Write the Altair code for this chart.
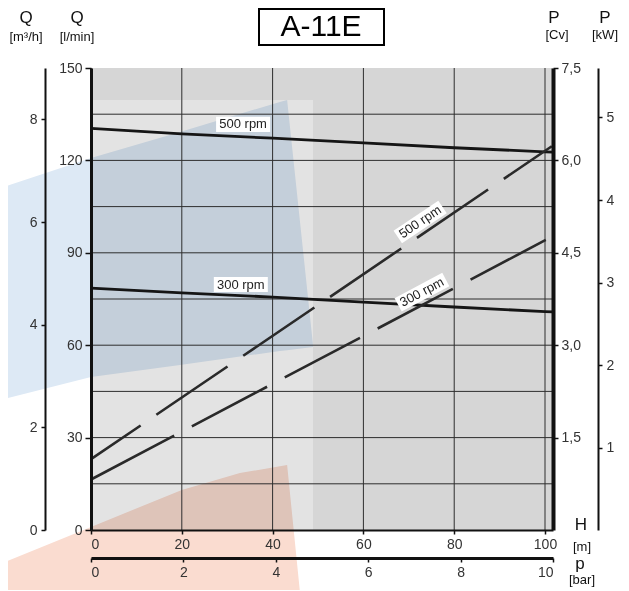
import altair as alt
import pandas as pd

FONT = "Liberation Sans"

# ---------------- data ----------------
h_grid = [0, 20, 40, 60, 80, 100]
q_grid = [15, 30, 45, 60, 75, 90, 105, 120, 135]

h_q = [0, 20, 40, 60, 80, 100, 101.76]
q_500 = [130.4, 128.6, 127.2, 125.7, 124.1, 122.8, 122.7]
q_300 = [78.5, 77.0, 75.6, 74.0, 72.4, 70.9, 70.8]

h_p = [0, 101.5]
p_500 = [1.15, 6.23]
p_300 = [0.82, 4.76]

q_lbl_text = ["500 rpm", "300 rpm"]
q_lbl_h = [33.5, 33.0]
q_lbl_q = [131.7, 79.7]

p_lbl_text = ["500 rpm", "300 rpm"]
p_lbl_h = [72.5, 72.9]
p_lbl_cv = [5.0, 3.86]
p_lbl_angle = [326, 332]

ticks_h = [0, 20, 40, 60, 80, 100]
ticks_q = [0, 30, 60, 90, 120, 150]
ticks_m3h = [0, 2, 4, 6, 8]
ticks_cv = [1.5, 3, 4.5, 6, 7.5]
ticks_kw = [1, 2, 3, 4, 5]
ticks_bar = [0, 2, 4, 6, 8, 10]

light_h = [0, 48.9]
light_q = [0, 139.6]

wm_blue_h = [-20.0, 0, 19.6, 41.6, 43.2, 48.9]
wm_blue_top = [111.0, 120.8, 129.2, 139.0, 139.6, 60.1]
wm_blue_bot = [42.2, 49.7, 53.6, 58.1, 58.4, 59.4]

wm_red_h = [-20.0, 0, 20.0, 32.8, 43.2, 46.0]
wm_red_top = [-11.0, 1.0, 13.0, 18.5, 21.1, -19.8]
wm_red_bot = [-32, -32, -32, -32, -32, -32]

# ---------------- scales / axes ----------------
sH = alt.Scale(domain=[0, 101.76], nice=False, zero=False)
sQ = alt.Scale(domain=[0, 150], nice=False, zero=False)
sCv = alt.Scale(domain=[0, 7.5], nice=False, zero=False)
sM3 = alt.Scale(domain=[0, 9], nice=False, zero=False)
sKW = alt.Scale(domain=[0, 5.6], nice=False, zero=False)
sBar = alt.Scale(domain=[0, 10], nice=False, zero=False)

base_ax = dict(labelFont=FONT, labelFontSize=14, labelColor="#333333",
               tickColor="#111111", domainColor="#111111", grid=False,
               title=None, zindex=1)

axH = alt.Axis(orient="bottom", values=ticks_h, tickSize=4, tickWidth=1.5,
               domainWidth=2, labelPadding=3, **base_ax)
axQ = alt.Axis(orient="left", values=ticks_q, tickSize=6, tickWidth=1.5,
               domainWidth=3, labelPadding=3, **base_ax)
axM3 = alt.Axis(orient="left", offset=46, values=ticks_m3h, tickSize=4,
                tickWidth=1.5, domainWidth=2, labelPadding=4, **base_ax)
axCv = alt.Axis(orient="right", values=ticks_cv, tickSize=5, tickWidth=1.5,
                domainWidth=4, labelPadding=3,
                labelExpr="replace(format(datum.value, '.1f'), '.', ',')",
                **base_ax)
axKW = alt.Axis(orient="right", offset=45, values=ticks_kw, tickSize=4,
                tickWidth=1.5, domainWidth=2, labelPadding=4, **base_ax)
axBar = alt.Axis(orient="bottom", offset=28, values=ticks_bar, tickSize=4,
                 tickWidth=1.5, domainWidth=3, labelPadding=3, **base_ax)

XH = alt.X("h:Q", scale=sH, axis=axH)
XH_none = alt.X("h:Q", scale=sH, axis=None)
YQ = alt.Y("q:Q", scale=sQ, axis=axQ)

BOX = "M-1,-0.28L1,-0.28L1,0.28L-1,0.28Z"

# ---------------- main group (H, l/min) ----------------
light = alt.Chart(pd.DataFrame({"h": [light_h[0]], "h2": [light_h[1]],
                                "q": [light_q[0]], "q2": [light_q[1]]})
                  ).mark_rect(color="#e3e3e3").encode(x=XH, x2="h2", y=YQ, y2="q2")

blue = alt.Chart(pd.DataFrame({"h": wm_blue_h, "q": wm_blue_top, "q2": wm_blue_bot})
                 ).mark_area(color="#dde9f5", blend="multiply", orient="vertical",
                             opacity=1).encode(x=XH, y=YQ, y2="q2")

red = alt.Chart(pd.DataFrame({"h": wm_red_h, "q": wm_red_top, "q2": wm_red_bot})
                ).mark_area(color="#fadcd0", blend="multiply", orient="vertical",
                            opacity=1).encode(x=XH, y=YQ, y2="q2")

vgrid = alt.Chart(pd.DataFrame({"h": h_grid})).mark_rule(
    color="#2e2e2e", strokeWidth=1).encode(x=XH)
hgrid = alt.Chart(pd.DataFrame({"q": q_grid})).mark_rule(
    color="#2e2e2e", strokeWidth=1).encode(y=YQ)

qdf = pd.DataFrame({"h": h_q + h_q, "q": q_500 + q_300,
                    "rpm": ["500"] * len(h_q) + ["300"] * len(h_q)})
qlines = alt.Chart(qdf).mark_line(color="#151515", strokeWidth=2.8).encode(
    x=XH, y=YQ, detail="rpm:N")

qlbl_df = pd.DataFrame({"h": q_lbl_h, "q": q_lbl_q, "t": q_lbl_text})
qlbl_bg = alt.Chart(qlbl_df).mark_point(shape=BOX, size=2916, filled=True,
                                        color="white", opacity=1, strokeWidth=0
                                        ).encode(x=XH, y=YQ)
qlbl = alt.Chart(qlbl_df).mark_text(font=FONT, fontSize=13, color="#222222"
                                    ).encode(x=XH, y=YQ, text="t:N")

main = alt.layer(light, blue, red, vgrid, hgrid, qlines, qlbl_bg, qlbl)

# ---------------- power group (H, Cv) ----------------
YCv = alt.Y("cv:Q", scale=sCv, axis=axCv)
p5 = alt.Chart(pd.DataFrame({"h": h_p, "cv": p_500})).mark_line(
    color="#2a2a2a", strokeWidth=2.6,
    strokeDash=[60, 19, 86, 19, 86, 19, 86, 19, 86, 19, 86, 19, 86, 19]
).encode(x=XH_none, y=YCv)
p3 = alt.Chart(pd.DataFrame({"h": h_p, "cv": p_300})).mark_line(
    color="#2a2a2a", strokeWidth=2.6,
    strokeDash=[94, 20, 85, 20, 85, 20, 85, 20, 85, 20, 85, 20]
).encode(x=XH_none, y=YCv)
plbl_df = pd.DataFrame({"h": p_lbl_h, "cv": p_lbl_cv, "t": p_lbl_text,
                        "a": p_lbl_angle})
plbl_bg = alt.Chart(plbl_df).mark_point(shape=BOX, size=2916, filled=True,
                                        color="white", opacity=1, strokeWidth=0
                                        ).encode(x=XH_none, y=YCv,
                                                 angle=alt.Angle("a:Q", scale=None))
plbl = alt.Chart(plbl_df).mark_text(font=FONT, fontSize=13, color="#222222"
                                    ).encode(x=XH_none, y=YCv, text="t:N",
                                             angle=alt.Angle("a:Q", scale=None))
power = alt.layer(p5, p3, plbl_bg, plbl)

# ---------------- extra axes ----------------
m3 = alt.Chart(pd.DataFrame({"v": ticks_m3h})).mark_point(opacity=0).encode(
    y=alt.Y("v:Q", scale=sM3, axis=axM3))
kw = alt.Chart(pd.DataFrame({"v": ticks_kw})).mark_point(opacity=0).encode(
    y=alt.Y("v:Q", scale=sKW, axis=axKW))
bar = alt.Chart(pd.DataFrame({"v": ticks_bar})).mark_point(opacity=0).encode(
    x=alt.X("v:Q", scale=sBar, axis=axBar))

# ---------------- annotations ----------------
def label(text, x, y, size, weight="normal", color="#111111"):
    return alt.Chart(pd.DataFrame({"t": [text]})).mark_text(
        font=FONT, fontSize=size, fontWeight=weight, color=color,
        align="center", baseline="middle"
    ).encode(text="t:N", x=alt.value(x), y=alt.value(y))

title_box = alt.Chart(pd.DataFrame({"t": ["A-11E"]})).mark_rect(
    fill="white", stroke="black", strokeWidth=2
).encode(x=alt.value(168), x2=alt.value(293), y=alt.value(-59), y2=alt.value(-23))

annots = alt.layer(
    title_box,
    label("A-11E", 230, -41, 30, color="#000000"),
    label("Q", -65, -50, 17),
    label("[m³/h]", -65, -31, 13),
    label("Q", -14, -50, 17),
    label("[l/min]", -14, -31, 13),
    label("P", 463, -50, 17),
    label("[Cv]", 466, -33, 13),
    label("P", 514, -50, 17),
    label("[kW]", 514, -33, 13),
    label("H", 490, 457, 17),
    label("[m]", 491, 479, 13),
    label("p", 489, 496, 17),
    label("[bar]", 491, 512, 13),
)

chart = alt.layer(main, power, m3, kw, bar, annots).resolve_scale(
    x="independent", y="independent"
).properties(
    width=462, height=462,
    padding={"left": 83, "top": 60, "right": 68, "bottom": 60},
    autosize=alt.AutoSizeParams(type="none"),
    background="white",
).configure_view(fill="#d6d6d6", stroke=None)

chart.save("out.html", embed_options={"renderer": "svg", "actions": False})
